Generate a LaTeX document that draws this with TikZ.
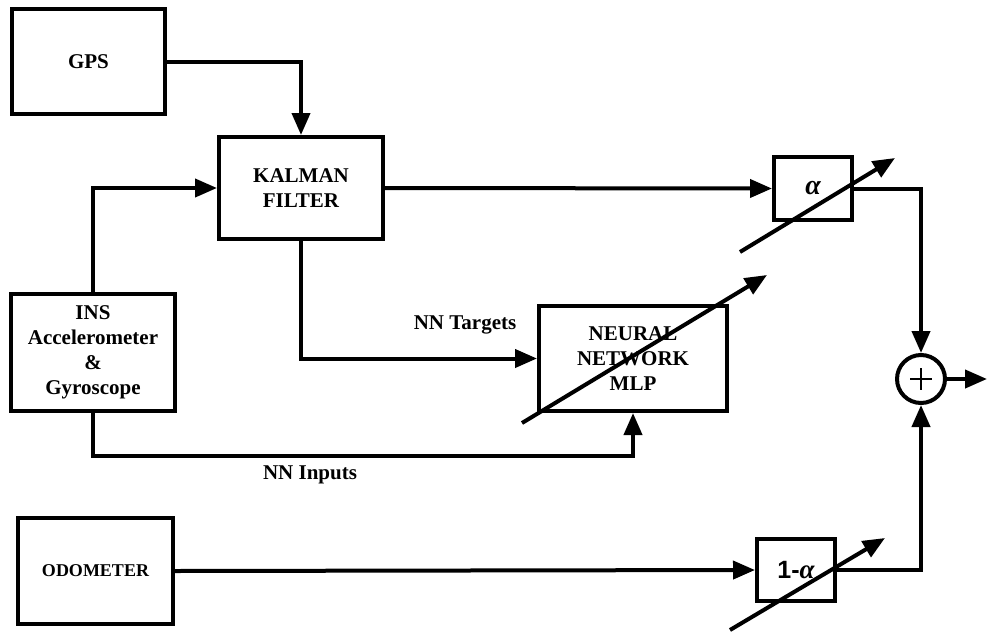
\documentclass[tikz,border=0pt]{standalone}
\usepackage{fontspec}
\setmainfont{Liberation Serif}
\newfontfamily\sansf{Liberation Sans}
\usetikzlibrary{arrows.meta}
\tikzset{
  box/.style={draw, line width=4pt, inner sep=0pt, align=center, font=\bfseries\fontsize{21}{25}\selectfont},
  wire/.style={line width=4pt},
  arr/.style={wire, -{Triangle[length=22pt,width=18pt]}},
  lbl/.style={font=\bfseries\fontsize{21}{25}\selectfont, inner sep=0pt},
}
\begin{document}
\begin{tikzpicture}[x=1pt,y=-1pt]
\useasboundingbox (0,0) rectangle (987,632);
\node[box, minimum width=153pt, minimum height=105pt] (gps) at (88.5,61.5) {GPS};
\node[box, minimum width=164pt, minimum height=102pt] (kal) at (301,188) {KALMAN\\FILTER};
\node[box, minimum width=164pt, minimum height=117pt] (ins) at (93,352.5) {INS\\Accelerometer\\\&\\Gyroscope};
\node[box, minimum width=188pt, minimum height=105pt] (nn) at (633,358.5) {NEURAL\\NETWORK\\MLP};
\node[box, minimum width=78pt, minimum height=63pt] (al) at (813,188.5) {\itshape\fontsize{28}{28}\selectfont α};
\node[box, minimum width=78pt, minimum height=62pt] (oal) at (796,570) {\sansf\fontsize{25}{25}\selectfont 1-\rmfamily\itshape\fontsize{27}{27}\selectfont α};
\node[box, minimum width=155pt, minimum height=106pt, font=\bfseries\fontsize{18}{22}\selectfont] (odo) at (95.5,571) {ODOMETER};
\node[draw, circle, line width=4pt, minimum size=48pt, inner sep=0pt] (sum) at (921,379) {};
\draw[line width=2pt] (sum.center) ++(-11,0) -- ++(22,0);
\draw[line width=2pt] (sum.center) ++(0,-11) -- ++(0,22);
\coordinate (out) at (987,379);

\draw[arr] (gps.east) -| (kal.north);
\draw[arr] (ins.north) |- (kal.west);
\draw[arr] (kal.south) |- (nn.west);
\draw[arr] (ins.south) -- ++(0,43) -| (nn.south);
\draw[arr] (kal.east) -- (al.west);
\draw[arr] (al.east) -| (sum.north);
\draw[arr] (oal.east) -| (sum.south);
\draw[arr] (odo.east) -- (oal.west);
\draw[arr] (sum.east) -- (out);

\node[lbl] (tl) at (465,325) {NN Targets};
\node[lbl] (il) at (310,475) {NN Inputs};

\draw[arr] (522,423) -- (767,275);
\draw[arr] (740,252) -- (895,158);
\draw[arr] (730,630) -- (885,538);
\end{tikzpicture}
\end{document}
